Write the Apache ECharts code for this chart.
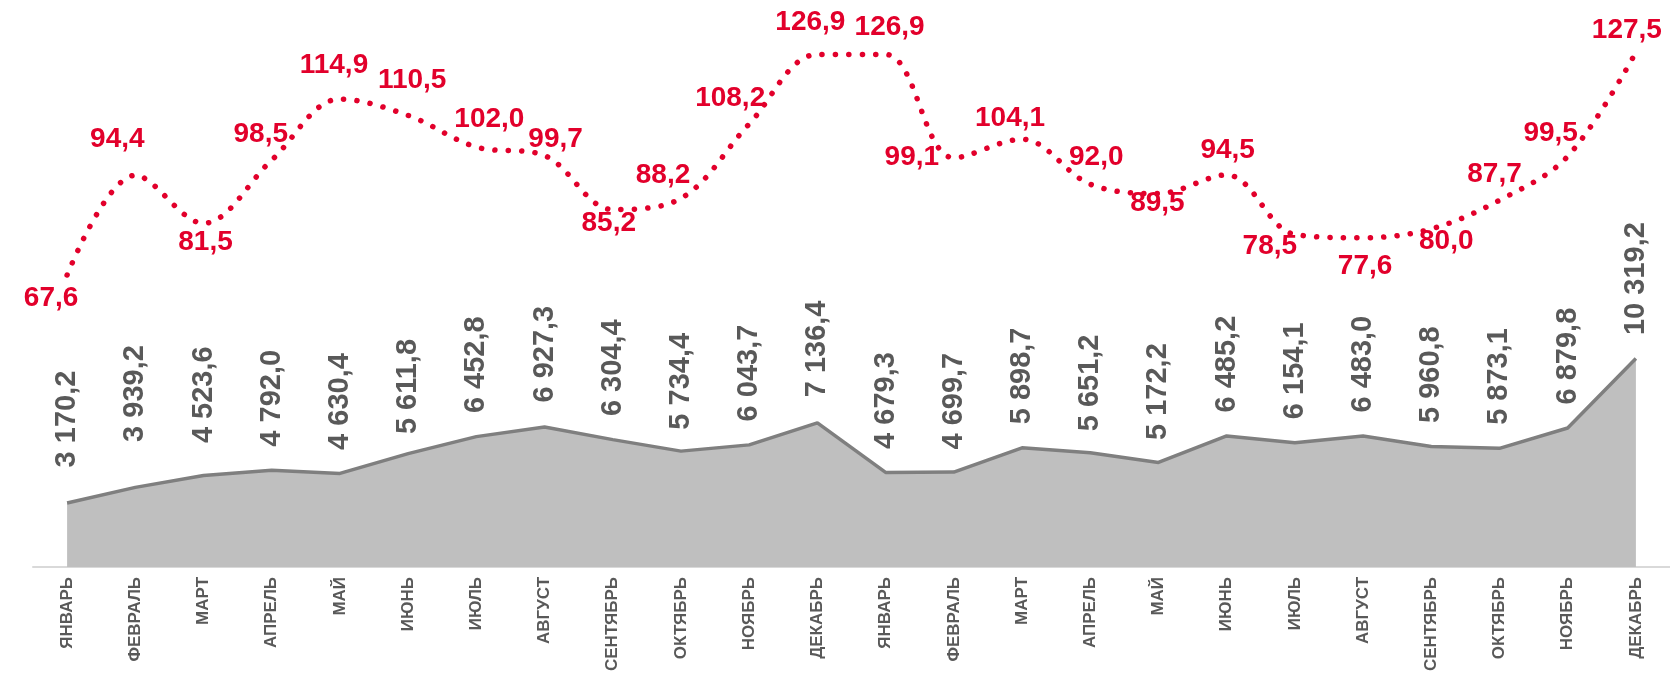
<!DOCTYPE html>
<html>
<head>
<meta charset="utf-8">
<script src="https://cdn.jsdelivr.net/npm/echarts@6/dist/echarts.min.js"></script>
<style>
html,body{margin:0;padding:0;background:#fff;}
#c{width:1670px;height:674px;}
</style>
</head>
<body>
<div id="c"></div>
<script>
const categories = ['ЯНВАРЬ','ФЕВРАЛЬ','МАРТ','АПРЕЛЬ','МАЙ','ИЮНЬ','ИЮЛЬ','АВГУСТ','СЕНТЯБРЬ','ОКТЯБРЬ','НОЯБРЬ','ДЕКАБРЬ',
  'ЯНВАРЬ','ФЕВРАЛЬ','МАРТ','АПРЕЛЬ','МАЙ','ИЮНЬ','ИЮЛЬ','АВГУСТ','СЕНТЯБРЬ','ОКТЯБРЬ','НОЯБРЬ','ДЕКАБРЬ'];
const volumeValues = [3170.2,3939.2,4523.6,4792.0,4630.4,5611.8,6452.8,6927.3,6304.4,5734.4,6043.7,7136.4,
  4679.3,4699.7,5898.7,5651.2,5172.2,6485.2,6154.1,6483.0,5960.8,5873.1,6879.8,10319.2];
const indexValues = [67.6,94.4,81.5,98.5,114.9,110.5,102.0,99.7,85.2,88.2,108.2,126.9,
  126.9,99.1,104.1,92.0,89.5,94.5,78.5,77.6,80.0,87.7,99.5,127.5];

// label layout tweaks (pixels)
const redLabelOffsets = [[-16,23],[-18,-36],[2,19],[-11,-26],[-6,-34],[4,-35],[13,-28],[11,-16],[-4,14],[-18,-23],[-19,-26],[-7,-32],
  [4,-27],[-42,-1],[-12,-21],[6,-27],[-1,10],[1,-25],[-25,12],[2,28],[15,12],[-5,-26],[-17,-23],[-9,-22]];
const grayLabelDist = [35,45,32,23,23,19,23,24,23,21,23,25,23,22,23,21,22,23,23,23,23,23,23,23];

const fmt = v => {
  const s = v.toFixed(1).replace('.', ',');
  const [i, d] = s.split(',');
  return i.replace(/\B(?=(\d{3})+(?!\d))/g, ' ') + ',' + d;
};

const RED = '#E2002B';
const GRAY_TXT = '#595959';
const FONT = '"Liberation Sans", Arial, sans-serif';

const chart = echarts.init(document.getElementById('c'), null, {renderer: 'canvas'});
chart.setOption({
  backgroundColor: '#ffffff',
  animation: false,
  grid: {left: 33, right: -4, top: 10, bottom: 107, containLabel: false},
  xAxis: {
    type: 'category',
    data: categories,
    boundaryGap: true,
    axisLine: {show: true, lineStyle: {color: '#D9D9D9', width: 2}},
    axisTick: {show: false},
    axisLabel: {rotate: 90, interval: 0, margin: 10, color: GRAY_TXT, fontWeight: 'bold', fontSize: 17, fontFamily: FONT}
  },
  yAxis: [
    {type: 'value', min: 0, max: 27574, show: false, splitLine: {show: false}},
    {type: 'value', min: -10.89, max: 138.84, show: false, splitLine: {show: false}}
  ],
  series: [
    {
      type: 'line',
      yAxisIndex: 0,
      data: volumeValues.map((v, i) => ({value: v, label: {distance: grayLabelDist[i]}})),
      symbol: 'circle',
      symbolSize: 1,
      itemStyle: {color: 'rgba(0,0,0,0)'},
      lineStyle: {color: '#7F7F7F', width: 3.5},
      areaStyle: {color: '#BFBFBF', opacity: 1},
      z: 2,
      label: {
        show: true,
        position: 'top',
        rotate: 90,
        align: 'left',
        verticalAlign: 'middle',
        color: GRAY_TXT,
        fontWeight: 'bold',
        fontSize: 29,
        fontFamily: FONT,
        formatter: p => fmt(p.value)
      }
    },
    {
      type: 'line',
      yAxisIndex: 1,
      data: indexValues.map((v, i) => ({value: v, label: {offset: redLabelOffsets[i]}})),
      smooth: 0.35,
      symbol: 'circle',
      symbolSize: 1,
      itemStyle: {color: 'rgba(0,0,0,0)'},
      lineStyle: {color: RED, width: 5.5, type: [0.1, 13.3], cap: 'round'},
      z: 3,
      label: {
        show: true,
        position: 'inside',
        align: 'center',
        verticalAlign: 'middle',
        color: RED,
        fontWeight: 'bold',
        fontSize: 28,
        fontFamily: FONT,
        formatter: p => fmt(p.value)
      }
    }
  ]
});
</script>
</body>
</html>
